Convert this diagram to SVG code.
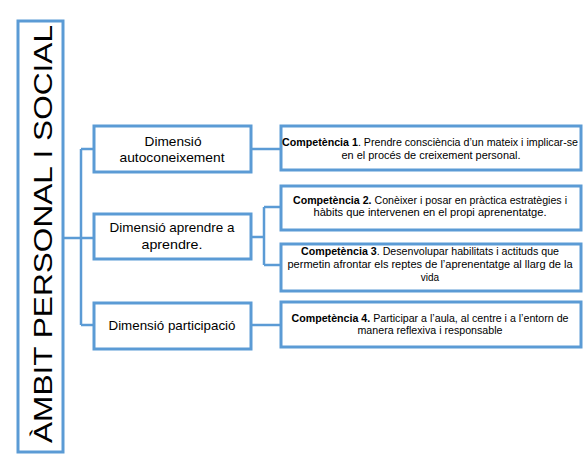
<svg xmlns="http://www.w3.org/2000/svg" width="588" height="473" viewBox="0 0 588 473">
<style>
.box{fill:#fff;stroke:#5B9BD5;stroke-width:3}
.con{fill:none;stroke:#5B9BD5;stroke-width:2.5}
.dim{font-family:"Liberation Sans",Arial,sans-serif;font-size:13px;fill:#000;text-anchor:middle}
.cmp{font-family:"Liberation Sans",Arial,sans-serif;font-size:10px;fill:#000;text-anchor:middle}
.b{font-weight:bold}
.big{font-family:"Liberation Sans",Arial,sans-serif;font-size:26.5px;fill:#000}
</style>
<rect width="588" height="473" fill="#fff"/>
<g id="connectors">
<path class="con" d="M63,238 H94 M81,149 V325 M81,149 H94 M81,325 H94"/>
<path class="con" d="M251,149 H281"/>
<path class="con" d="M251,237 H264 M264,207 V265 M264,207 H281 M264,265 H281"/>
<path class="con" d="M251,325 H281"/>
</g>
<g id="ambit">
<rect class="box" x="18" y="21" width="45" height="431"/>
<text class="big" transform="translate(52,443) rotate(-90)" textLength="418" lengthAdjust="spacingAndGlyphs">ÀMBIT PERSONAL I SOCIAL</text>
</g>
<g id="dim1">
<rect class="box" x="94" y="126" width="157" height="46"/>
<text class="dim" x="173" y="146" textLength="57" lengthAdjust="spacingAndGlyphs">Dimensió</text>
<text class="dim" x="172" y="162" textLength="105" lengthAdjust="spacingAndGlyphs">autoconeixement</text>
</g>
<g id="dim2">
<rect class="box" x="94" y="214" width="157" height="45"/>
<text class="dim" x="172" y="232" textLength="125" lengthAdjust="spacingAndGlyphs">Dimensió aprendre a</text>
<text class="dim" x="172" y="249" textLength="61" lengthAdjust="spacingAndGlyphs">aprendre.</text>
</g>
<g id="dim3">
<rect class="box" x="94" y="303" width="157" height="46"/>
<text class="dim" x="172" y="330" textLength="127" lengthAdjust="spacingAndGlyphs">Dimensió participació</text>
</g>
<g id="comp1">
<rect class="box" x="281" y="126" width="300" height="44"/>
<text class="cmp" x="430" y="146" textLength="296" lengthAdjust="spacingAndGlyphs"><tspan class="b">Competència 1</tspan>. Prendre consciència d’un mateix i implicar-se</text>
<text class="cmp" x="431" y="159" textLength="179" lengthAdjust="spacingAndGlyphs">en el procés de creixement personal.</text>
</g>
<g id="comp2">
<rect class="box" x="281" y="186" width="300" height="44"/>
<text class="cmp" x="430" y="204" textLength="274" lengthAdjust="spacingAndGlyphs"><tspan class="b">Competència 2.</tspan> Conèixer i posar en pràctica estratègies i</text>
<text class="cmp" x="430" y="216" textLength="233" lengthAdjust="spacingAndGlyphs">hàbits que intervenen en el propi aprenentatge.</text>
</g>
<g id="comp3">
<rect class="box" x="281" y="244" width="300" height="47"/>
<text class="cmp" x="430" y="255" textLength="258" lengthAdjust="spacingAndGlyphs"><tspan class="b">Competència 3</tspan>. Desenvolupar habilitats i actituds que</text>
<text class="cmp" x="430" y="268" textLength="285" lengthAdjust="spacingAndGlyphs">permetin afrontar els reptes de l’aprenentatge al llarg de la</text>
<text class="cmp" x="430" y="281">vida</text>
</g>
<g id="comp4">
<rect class="box" x="281" y="302" width="300" height="45"/>
<text class="cmp" x="430" y="322" textLength="277" lengthAdjust="spacingAndGlyphs"><tspan class="b">Competència 4.</tspan> Participar a l’aula, al centre i a l’entorn de</text>
<text class="cmp" x="430" y="334" textLength="145" lengthAdjust="spacingAndGlyphs">manera reflexiva i responsable</text>
</g>
</svg>
